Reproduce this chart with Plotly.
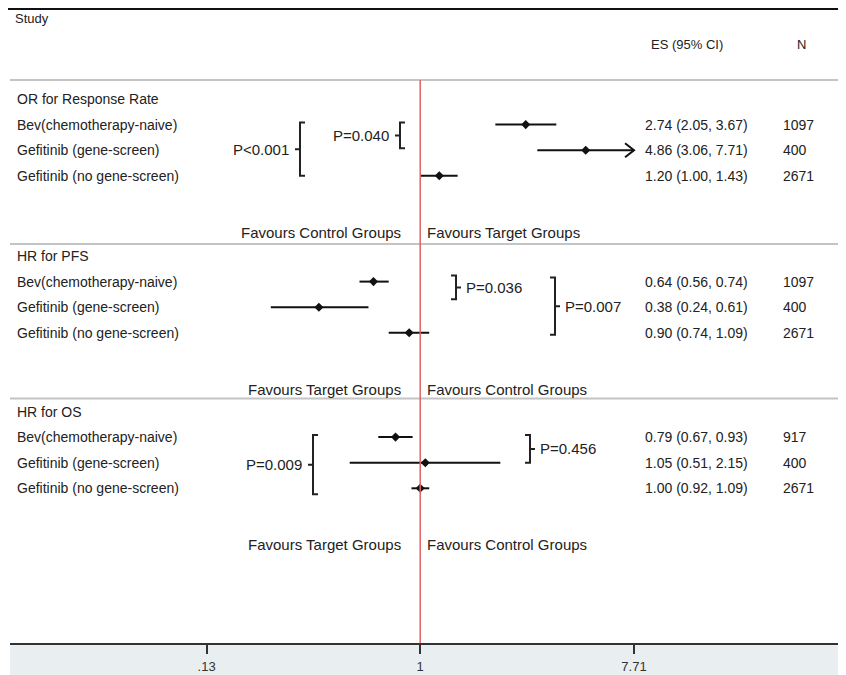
import math
import plotly.graph_objects as go

# ---------------- data ----------------
section_titles = ["OR for Response Rate", "HR for PFS", "HR for OS"]
studies = ["Bev(chemotherapy-naive)", "Gefitinib (gene-screen)", "Gefitinib (no gene-screen)"]

or_es = [2.74, 4.86, 1.20]
or_lo = [2.05, 3.06, 1.00]
or_hi = [3.67, 7.71, 1.43]
or_n = [1097, 400, 2671]

pfs_es = [0.64, 0.38, 0.90]
pfs_lo = [0.56, 0.24, 0.74]
pfs_hi = [0.74, 0.61, 1.09]
pfs_n = [1097, 400, 2671]

os_es = [0.79, 1.05, 1.00]
os_lo = [0.67, 0.51, 0.92]
os_hi = [0.93, 2.15, 1.09]
os_n = [917, 400, 2671]

favours_left = ["Favours Control Groups", "Favours Target Groups", "Favours Target Groups"]
favours_right = ["Favours Target Groups", "Favours Control Groups", "Favours Control Groups"]

tick_vals = [0.13, 1, 7.71]
tick_text = [".13", "1", "7.71"]

p_labels = ["P<0.001", "P=0.040", "P=0.036", "P=0.007", "P=0.009", "P=0.456"]

# ---------------- layout geometry (page pixels) ----------------
PAGE_W, PAGE_H = 846, 675
BODY_OFF = 8                  # default page body margin
W, H = PAGE_W - BODY_OFF, PAGE_H - BODY_OFF
PLOT_L, PLOT_R = 10, 846      # plot area in page pixels
PLOT_T, PLOT_B = 8, 643
PX_PER_LN = 104.69
X_CENTER_PX = 420.2


def px_to_log10(p):
    return ((p - X_CENTER_PX) / PX_PER_LN) / math.log(10)


def xp(p):
    return (p - PLOT_L) / (PLOT_R - PLOT_L)


section_base = [99, 256, 411.5]
row_step = 25.6
sep_y = [80, 244, 398.5]
favours_off = 133
top_line_y = 9
FONT = "Liberation Sans, Arial, sans-serif"
TXT = "#222222"

sections = [
    (or_es, or_lo, or_hi, or_n),
    (pfs_es, pfs_lo, pfs_hi, pfs_n),
    (os_es, os_lo, os_hi, os_n),
]


def row_y(s, i):
    return section_base[s] + row_step * (i + 1)


fig = go.Figure()
annotations = []
shapes = []


def txt(x, y, t, anchor="left", size=14):
    annotations.append(dict(x=xp(x), y=y, xref="paper", yref="y", text=t, showarrow=False,
                            xanchor=anchor, yanchor="middle", font=dict(size=size, color=TXT)))


line_x, line_y, mk_x, mk_y = [], [], [], []
arrow_k = math.exp(-9 / PX_PER_LN)
for s, (es, lo, hi, n) in enumerate(sections):
    txt(15, section_base[s], section_titles[s])
    for i in range(3):
        y = row_y(s, i)
        line_x += [lo[i], hi[i], None]
        line_y += [y, y, None]
        if hi[i] >= max(tick_vals):
            line_x += [hi[i] * arrow_k, hi[i], hi[i] * arrow_k, None]
            line_y += [y - 7, y, y + 7, None]
        mk_x.append(es[i])
        mk_y.append(y)
        txt(15, y, studies[i])
        txt(643, y, f"{es[i]:.2f} ({lo[i]:.2f}, {hi[i]:.2f})")
        txt(781, y, str(n[i]))
    fy = section_base[s] + favours_off
    txt(403, fy, favours_left[s], "right", 15)
    txt(425, fy, favours_right[s], "left", 15)

fig.add_trace(go.Scatter(x=line_x, y=line_y, mode="lines", line=dict(color="#111111", width=2),
                         hoverinfo="skip", showlegend=False))
fig.add_trace(go.Scatter(x=mk_x, y=mk_y, mode="markers",
                         marker=dict(symbol="diamond", size=7, color="#111111"), showlegend=False))

# headers
txt(13, 18, "Study", "left", 13)
txt(649, 44, "ES (95% CI)", "left", 13)
txt(801, 44, "N", "center", 13)

# brackets: (section, row0, row1, x_px, dy0, dy1, text side, label)
brackets = [
    (0, 0, 2, 300, -2, 0, "left", p_labels[0]),
    (0, 0, 1, 400, -2, -2, "left", p_labels[1]),
    (1, 0, 1, 456, -6, -8, "right", p_labels[2]),
    (1, 0, 2, 555, -4, 2, "right", p_labels[3]),
    (2, 0, 2, 313, -2, 6, "left", p_labels[4]),
    (2, 0, 1, 530, -2, 0, "right", p_labels[5]),
]
BR = dict(color="#222222", width=2)
for s, r0, r1, bx, d0, d1, side, lab in brackets:
    y0 = row_y(s, r0) + d0
    y1 = row_y(s, r1) + d1
    ym = (y0 + y1) / 2
    serif = 5 if side == "left" else -5
    tick = -5 if side == "left" else 5
    path = (f"M {xp(bx + serif)},{y0} L {xp(bx)},{y0} L {xp(bx)},{y1} L {xp(bx + serif)},{y1} "
            f"M {xp(bx)},{ym} L {xp(bx + tick)},{ym}")
    shapes.append(dict(type="path", xref="paper", yref="y", path=path, line=BR))
    if side == "left":
        txt(bx - 9, ym, lab, "right", 15)
    else:
        txt(bx + 8, ym, lab, "left", 15)

# separators
for sy in sep_y:
    shapes.append(dict(type="line", xref="paper", yref="y", x0=0, x1=1, y0=sy, y1=sy,
                       line=dict(color="#c4c4c4", width=2)))
# top black rule
shapes.append(dict(type="line", xref="paper", yref="y", x0=xp(BODY_OFF), x1=1, y0=top_line_y, y1=top_line_y,
                   line=dict(color="#111111", width=2)))
# reference line at 1
shapes.append(dict(type="line", xref="x", yref="y", x0=1, x1=1, y0=sep_y[0], y1=PLOT_B,
                   line=dict(color="#e06464", width=1.5)))
# axis band
band_h = (PAGE_H - PLOT_B) / (PLOT_B - PLOT_T)
shapes.append(dict(type="rect", xref="paper", yref="paper", x0=0, x1=1, y0=-band_h, y1=0,
                   fillcolor="#e9eef1", line=dict(width=0), layer="below"))

fig.update_layout(
    width=W, height=H,
    margin=dict(l=PLOT_L - BODY_OFF, r=PAGE_W - PLOT_R, t=PLOT_T - BODY_OFF, b=PAGE_H - PLOT_B),
    paper_bgcolor="white", plot_bgcolor="white",
    font=dict(family=FONT, color=TXT),
    showlegend=False,
    annotations=annotations,
    shapes=shapes,
    xaxis=dict(type="log", range=[px_to_log10(PLOT_L), px_to_log10(PLOT_R)], tickvals=tick_vals,
               ticktext=tick_text, showgrid=False, zeroline=False, showline=True, linecolor="#333333",
               linewidth=1.5, ticks="outside", ticklen=9, tickwidth=1.5, tickcolor="#333333",
               tickfont=dict(size=13, color="#333333"), ticklabelstandoff=2, fixedrange=True),
    yaxis=dict(range=[PLOT_B, PLOT_T], visible=False, fixedrange=True),
)

fig.write_html("out.html")
